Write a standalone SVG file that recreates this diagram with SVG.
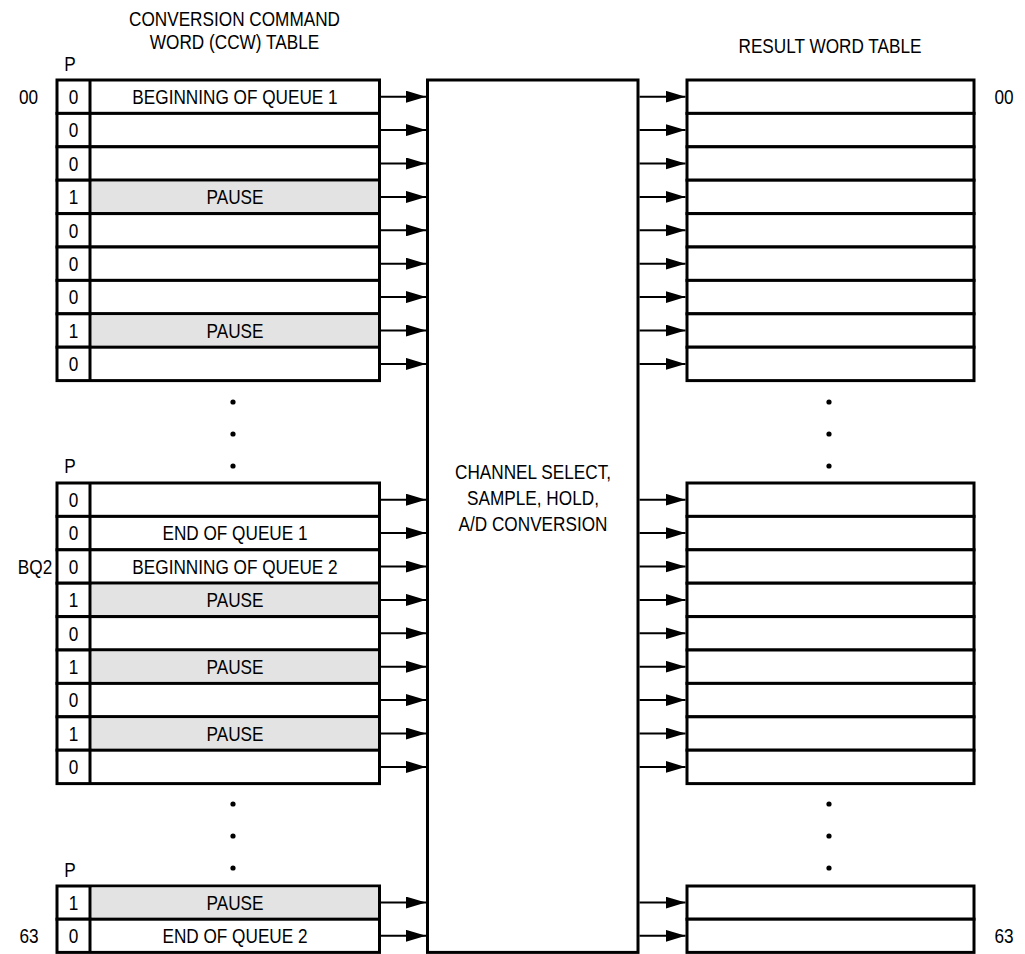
<svg xmlns="http://www.w3.org/2000/svg" width="1025" height="954" viewBox="0 0 1025 954">
<style>
.t{font-family:"Liberation Sans",Arial,sans-serif;font-size:20px;fill:#000;text-anchor:middle}
.row{fill:#fff;stroke:#000;stroke-width:3}
.g{fill:#e3e3e3}
.div{stroke:#000;stroke-width:3}
.box{fill:#fff;stroke:#000;stroke-width:3}
.arr{stroke:#000;stroke-width:2;fill:none;marker-end:url(#ah)}
.dot{fill:#000}
</style>
<defs>
<marker id="ah" markerUnits="userSpaceOnUse" markerWidth="20" markerHeight="12" refX="20" refY="6" orient="auto">
<path d="M0,0 L20,6 L0,12 z" fill="#000"/>
</marker>
</defs>
<rect width="1025" height="954" fill="#fff"/>

<g id="titles">
<text class="t" transform="translate(234.5 26) scale(0.86 1)">CONVERSION COMMAND</text>
<text class="t" transform="translate(234.5 49) scale(0.86 1)">WORD (CCW) TABLE</text>
<text class="t" transform="translate(830 53) scale(0.86 1)">RESULT WORD TABLE</text>
<text class="t" transform="translate(70 71) scale(0.86 1)">P</text>
<text class="t" transform="translate(70 473) scale(0.86 1)">P</text>
<text class="t" transform="translate(70 877) scale(0.86 1)">P</text>
<text class="t" transform="translate(28.5 104) scale(0.86 1)">00</text>
<text class="t" transform="translate(35 573.8) scale(0.86 1)">BQ2</text>
<text class="t" transform="translate(29 943) scale(0.86 1)">63</text>
<text class="t" transform="translate(1004 104) scale(0.86 1)">00</text>
<text class="t" transform="translate(1004 943) scale(0.86 1)">63</text>
</g>

<g id="ccw-block1">
<rect class="row" x="57" y="80" width="322.5" height="33.4"/>
<rect class="row" x="57" y="113.4" width="322.5" height="33.4"/>
<rect class="row" x="57" y="146.8" width="322.5" height="33.4"/>
<rect class="row" x="57" y="180.2" width="322.5" height="33.4"/>
<rect class="g" x="91.5" y="181.7" width="286.5" height="30.4"/>
<rect class="row" x="57" y="213.6" width="322.5" height="33.4"/>
<rect class="row" x="57" y="247" width="322.5" height="33.4"/>
<rect class="row" x="57" y="280.4" width="322.5" height="33.4"/>
<rect class="row" x="57" y="313.8" width="322.5" height="33.4"/>
<rect class="g" x="91.5" y="315.3" width="286.5" height="30.4"/>
<rect class="row" x="57" y="347.2" width="322.5" height="33.4"/>
<line class="div" x1="90" y1="80" x2="90" y2="380.6"/>
<text class="t" transform="translate(73.5 104) scale(0.86 1)">0</text>
<text class="t" transform="translate(73.5 137.4) scale(0.86 1)">0</text>
<text class="t" transform="translate(73.5 170.8) scale(0.86 1)">0</text>
<text class="t" transform="translate(73.5 204.2) scale(0.86 1)">1</text>
<text class="t" transform="translate(73.5 237.6) scale(0.86 1)">0</text>
<text class="t" transform="translate(73.5 271) scale(0.86 1)">0</text>
<text class="t" transform="translate(73.5 304.4) scale(0.86 1)">0</text>
<text class="t" transform="translate(73.5 337.8) scale(0.86 1)">1</text>
<text class="t" transform="translate(73.5 371.2) scale(0.86 1)">0</text>
<text class="t" transform="translate(235 104) scale(0.86 1)">BEGINNING OF QUEUE 1</text>
<text class="t" transform="translate(235 204.2) scale(0.86 1)">PAUSE</text>
<text class="t" transform="translate(235 337.8) scale(0.86 1)">PAUSE</text>
</g>

<g id="ccw-block2">
<rect class="row" x="57" y="483" width="322.5" height="33.4"/>
<rect class="row" x="57" y="516.4" width="322.5" height="33.4"/>
<rect class="row" x="57" y="549.8" width="322.5" height="33.4"/>
<rect class="row" x="57" y="583.2" width="322.5" height="33.4"/>
<rect class="g" x="91.5" y="584.7" width="286.5" height="30.4"/>
<rect class="row" x="57" y="616.6" width="322.5" height="33.4"/>
<rect class="row" x="57" y="650" width="322.5" height="33.4"/>
<rect class="g" x="91.5" y="651.5" width="286.5" height="30.4"/>
<rect class="row" x="57" y="683.4" width="322.5" height="33.4"/>
<rect class="row" x="57" y="716.8" width="322.5" height="33.4"/>
<rect class="g" x="91.5" y="718.3" width="286.5" height="30.4"/>
<rect class="row" x="57" y="750.2" width="322.5" height="33.4"/>
<line class="div" x1="90" y1="483" x2="90" y2="783.6"/>
<text class="t" transform="translate(73.5 507) scale(0.86 1)">0</text>
<text class="t" transform="translate(73.5 540.4) scale(0.86 1)">0</text>
<text class="t" transform="translate(73.5 573.8) scale(0.86 1)">0</text>
<text class="t" transform="translate(73.5 607.2) scale(0.86 1)">1</text>
<text class="t" transform="translate(73.5 640.6) scale(0.86 1)">0</text>
<text class="t" transform="translate(73.5 674) scale(0.86 1)">1</text>
<text class="t" transform="translate(73.5 707.4) scale(0.86 1)">0</text>
<text class="t" transform="translate(73.5 740.8) scale(0.86 1)">1</text>
<text class="t" transform="translate(73.5 774.2) scale(0.86 1)">0</text>
<text class="t" transform="translate(235 540.4) scale(0.86 1)">END OF QUEUE 1</text>
<text class="t" transform="translate(235 573.8) scale(0.86 1)">BEGINNING OF QUEUE 2</text>
<text class="t" transform="translate(235 607.2) scale(0.86 1)">PAUSE</text>
<text class="t" transform="translate(235 674) scale(0.86 1)">PAUSE</text>
<text class="t" transform="translate(235 740.8) scale(0.86 1)">PAUSE</text>
</g>

<g id="ccw-block3">
<rect class="row" x="57" y="886" width="322.5" height="33.2"/>
<rect class="g" x="91.5" y="887.5" width="286.5" height="30.2"/>
<rect class="row" x="57" y="919.2" width="322.5" height="33.2"/>
<line class="div" x1="90" y1="886" x2="90" y2="952.4"/>
<text class="t" transform="translate(73.5 909.8) scale(0.86 1)">1</text>
<text class="t" transform="translate(73.5 943) scale(0.86 1)">0</text>
<text class="t" transform="translate(235 909.8) scale(0.86 1)">PAUSE</text>
<text class="t" transform="translate(235 943) scale(0.86 1)">END OF QUEUE 2</text>
</g>

<g id="ccw-dots">
<circle class="dot" cx="233" cy="402" r="2.6"/>
<circle class="dot" cx="233" cy="434" r="2.6"/>
<circle class="dot" cx="233" cy="466" r="2.6"/>
<circle class="dot" cx="233" cy="804" r="2.6"/>
<circle class="dot" cx="233" cy="836" r="2.6"/>
<circle class="dot" cx="233" cy="868" r="2.6"/>
</g>

<g id="converter">
<rect class="box" x="427.5" y="80" width="210.5" height="872.4"/>
<text class="t" transform="translate(533 479) scale(0.86 1)">CHANNEL SELECT,</text>
<text class="t" transform="translate(533 505) scale(0.86 1)">SAMPLE, HOLD,</text>
<text class="t" transform="translate(533 531) scale(0.86 1)">A/D CONVERSION</text>
</g>

<g id="result-block1">
<rect class="row" x="687" y="80" width="287" height="33.4"/>
<rect class="row" x="687" y="113.4" width="287" height="33.4"/>
<rect class="row" x="687" y="146.8" width="287" height="33.4"/>
<rect class="row" x="687" y="180.2" width="287" height="33.4"/>
<rect class="row" x="687" y="213.6" width="287" height="33.4"/>
<rect class="row" x="687" y="247" width="287" height="33.4"/>
<rect class="row" x="687" y="280.4" width="287" height="33.4"/>
<rect class="row" x="687" y="313.8" width="287" height="33.4"/>
<rect class="row" x="687" y="347.2" width="287" height="33.4"/>
</g>

<g id="result-block2">
<rect class="row" x="687" y="483" width="287" height="33.4"/>
<rect class="row" x="687" y="516.4" width="287" height="33.4"/>
<rect class="row" x="687" y="549.8" width="287" height="33.4"/>
<rect class="row" x="687" y="583.2" width="287" height="33.4"/>
<rect class="row" x="687" y="616.6" width="287" height="33.4"/>
<rect class="row" x="687" y="650" width="287" height="33.4"/>
<rect class="row" x="687" y="683.4" width="287" height="33.4"/>
<rect class="row" x="687" y="716.8" width="287" height="33.4"/>
<rect class="row" x="687" y="750.2" width="287" height="33.4"/>
</g>

<g id="result-block3">
<rect class="row" x="687" y="886" width="287" height="33.2"/>
<rect class="row" x="687" y="919.2" width="287" height="33.2"/>
</g>

<g id="result-dots">
<circle class="dot" cx="829" cy="402" r="2.6"/>
<circle class="dot" cx="829" cy="434" r="2.6"/>
<circle class="dot" cx="829" cy="466" r="2.6"/>
<circle class="dot" cx="829" cy="804" r="2.6"/>
<circle class="dot" cx="829" cy="836" r="2.6"/>
<circle class="dot" cx="829" cy="868" r="2.6"/>
</g>

<g id="connectors">
<line class="arr" x1="381" y1="96.7" x2="426" y2="96.7"/>
<line class="arr" x1="381" y1="130.1" x2="426" y2="130.1"/>
<line class="arr" x1="381" y1="163.5" x2="426" y2="163.5"/>
<line class="arr" x1="381" y1="196.9" x2="426" y2="196.9"/>
<line class="arr" x1="381" y1="230.3" x2="426" y2="230.3"/>
<line class="arr" x1="381" y1="263.7" x2="426" y2="263.7"/>
<line class="arr" x1="381" y1="297.1" x2="426" y2="297.1"/>
<line class="arr" x1="381" y1="330.5" x2="426" y2="330.5"/>
<line class="arr" x1="381" y1="363.9" x2="426" y2="363.9"/>
<line class="arr" x1="381" y1="499.7" x2="426" y2="499.7"/>
<line class="arr" x1="381" y1="533.1" x2="426" y2="533.1"/>
<line class="arr" x1="381" y1="566.5" x2="426" y2="566.5"/>
<line class="arr" x1="381" y1="599.9" x2="426" y2="599.9"/>
<line class="arr" x1="381" y1="633.3" x2="426" y2="633.3"/>
<line class="arr" x1="381" y1="666.7" x2="426" y2="666.7"/>
<line class="arr" x1="381" y1="700.1" x2="426" y2="700.1"/>
<line class="arr" x1="381" y1="733.5" x2="426" y2="733.5"/>
<line class="arr" x1="381" y1="766.9" x2="426" y2="766.9"/>
<line class="arr" x1="381" y1="902.6" x2="426" y2="902.6"/>
<line class="arr" x1="381" y1="935.8" x2="426" y2="935.8"/>
<line class="arr" x1="639.5" y1="96.7" x2="685.5" y2="96.7"/>
<line class="arr" x1="639.5" y1="130.1" x2="685.5" y2="130.1"/>
<line class="arr" x1="639.5" y1="163.5" x2="685.5" y2="163.5"/>
<line class="arr" x1="639.5" y1="196.9" x2="685.5" y2="196.9"/>
<line class="arr" x1="639.5" y1="230.3" x2="685.5" y2="230.3"/>
<line class="arr" x1="639.5" y1="263.7" x2="685.5" y2="263.7"/>
<line class="arr" x1="639.5" y1="297.1" x2="685.5" y2="297.1"/>
<line class="arr" x1="639.5" y1="330.5" x2="685.5" y2="330.5"/>
<line class="arr" x1="639.5" y1="363.9" x2="685.5" y2="363.9"/>
<line class="arr" x1="639.5" y1="499.7" x2="685.5" y2="499.7"/>
<line class="arr" x1="639.5" y1="533.1" x2="685.5" y2="533.1"/>
<line class="arr" x1="639.5" y1="566.5" x2="685.5" y2="566.5"/>
<line class="arr" x1="639.5" y1="599.9" x2="685.5" y2="599.9"/>
<line class="arr" x1="639.5" y1="633.3" x2="685.5" y2="633.3"/>
<line class="arr" x1="639.5" y1="666.7" x2="685.5" y2="666.7"/>
<line class="arr" x1="639.5" y1="700.1" x2="685.5" y2="700.1"/>
<line class="arr" x1="639.5" y1="733.5" x2="685.5" y2="733.5"/>
<line class="arr" x1="639.5" y1="766.9" x2="685.5" y2="766.9"/>
<line class="arr" x1="639.5" y1="902.6" x2="685.5" y2="902.6"/>
<line class="arr" x1="639.5" y1="935.8" x2="685.5" y2="935.8"/>
</g>
</svg>
